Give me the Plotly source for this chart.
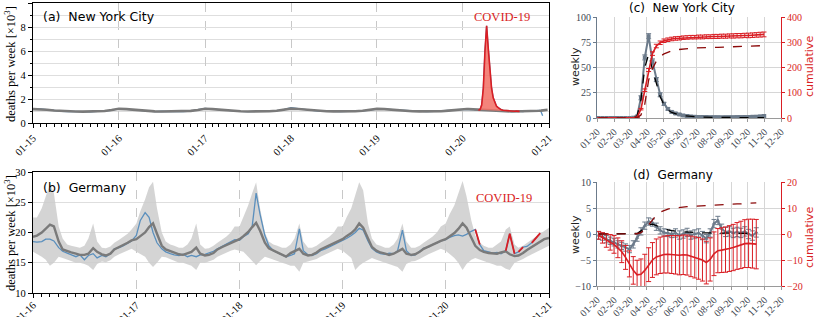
import pandas as pd
import plotly.graph_objects as go

# ---------------- (a) New York City: deaths per week [x10^3] ----------------
nyc_hist_dates = pd.date_range("2015-01-01", "2019-12-01", freq="MS")
nyc_hist_expected = [
    1.16, 1.15, 1.10, 1.04, 1.00, 0.97, 0.96, 0.95, 0.95, 0.97, 1.00, 1.08,
    1.18, 1.16, 1.11, 1.05, 1.01, 0.97, 0.96, 0.96, 0.95, 0.97, 1.01, 1.09,
    1.19, 1.16, 1.11, 1.05, 1.01, 0.98, 0.96, 0.96, 0.95, 0.98, 1.02, 1.10,
    1.20, 1.17, 1.12, 1.06, 1.01, 0.98, 0.97, 0.96, 0.96, 0.98, 1.02, 1.10,
    1.18, 1.16, 1.11, 1.05, 1.01, 0.98, 0.97, 0.96, 0.96, 0.98, 1.03, 1.10]
nyc_hist_observed = [
    1.13, 1.18, 1.12, 1.02, 0.98, 0.96, 0.98, 0.94, 0.93, 0.97, 0.99, 1.05,
    1.20, 1.14, 1.13, 1.04, 0.99, 0.95, 0.98, 0.95, 0.94, 0.96, 1.00, 1.12,
    1.22, 1.15, 1.10, 1.06, 0.99, 0.97, 0.95, 0.97, 0.94, 0.97, 1.03, 1.12,
    1.27, 1.19, 1.10, 1.05, 1.00, 0.96, 0.98, 0.95, 0.95, 0.97, 1.01, 1.08,
    1.16, 1.15, 1.12, 1.04, 1.00, 0.97, 0.96, 0.95, 0.97, 0.99, 1.04, 1.12]
nyc_2020_dates = pd.date_range("2020-01-04", "2020-12-26", freq="7D")
nyc_2020_expected = [
    1.18, 1.17, 1.17, 1.16,
    1.15, 1.15, 1.14, 1.13, 1.12,
    1.11, 1.10, 1.09, 1.08,
    1.07, 1.06, 1.05, 1.04,
    1.03, 1.02, 1.01, 1.00, 1.00,
    0.99, 0.99, 0.98, 0.98,
    0.97, 0.97, 0.97, 0.96,
    0.96, 0.96, 0.96, 0.96, 0.96,
    0.96, 0.96, 0.96, 0.96,
    0.97, 0.97, 0.98, 0.98, 0.99,
    1.00, 1.01, 1.02, 1.03,
    1.05, 1.06, 1.08, 1.10]
nyc_2020_observed = [
    1.17, 1.15, 1.14, 1.12,
    1.13, 1.10, 1.11, 1.09, 1.08,
    1.07, 1.12, 1.50, 2.90,
    6.00, 8.10, 6.20, 4.30,
    2.90, 2.10, 1.65, 1.40, 1.28,
    1.18, 1.10, 1.06, 1.04,
    1.02, 1.01, 1.00, 0.99,
    0.99, 0.98, 0.99, 0.97, 0.97,
    0.95, 0.96, 0.97, 0.96,
    0.97, 0.98, 0.99, 1.00, 1.00,
    1.02, 1.03, 1.05, 0.95,
    0.60, None, None, None]
nyc_covid_line = ("2020-03-07", "2020-08-29")
nyc_covid_fill = ("2020-03-14", "2020-07-04")

# ---------------- (b) Germany: deaths per week [x10^3], semi-monthly ----------------
de_dates = [pd.Timestamp(y, m, d) for y in range(2016, 2021) for m in range(1, 13) for d in (1, 15)] + [pd.Timestamp(2021, 1, 1)]
de_expected = [
    19.3, 19.5, 20.0, 20.6, 21.3, 21.0, 18.5, 17.2, 16.9, 16.7, 16.5, 16.3, 16.3, 16.5, 17.4, 16.8, 16.4, 16.2, 16.5, 17.2, 17.6, 17.9, 18.3, 18.7,
    18.9, 19.4, 20.0, 20.9, 21.5, 19.8, 17.8, 17.2, 16.9, 16.6, 16.4, 16.3, 16.5, 16.8, 17.5, 16.5, 16.2, 16.3, 16.6, 17.2, 17.6, 17.9, 18.3, 18.6,
    18.9, 19.4, 20.1, 20.9, 21.6, 20.3, 18.3, 17.4, 17.0, 16.7, 16.3, 16.0, 16.6, 16.9, 17.3, 16.5, 16.2, 16.3, 16.7, 17.2, 17.6, 17.9, 18.2, 18.5,
    18.9, 19.4, 19.9, 20.5, 21.5, 20.8, 19.0, 17.6, 17.0, 16.7, 16.5, 16.3, 16.5, 16.8, 17.3, 16.5, 16.3, 16.4, 16.8, 17.3, 17.7, 18.0, 18.3, 18.6,
    18.9, 19.4, 19.9, 20.6, 21.5, 20.8, 19.0, 17.8, 17.1, 16.8, 16.6, 16.5, 16.5, 16.7, 16.9, 16.4, 16.1, 16.2, 16.6, 17.1, 17.6, 18.0, 18.5, 18.9,
    19.1]
de_observed = [
    18.5, 18.4, 18.5, 18.9, 18.9, 18.6, 17.5, 16.9, 16.6, 16.3, 16.0, 16.3, 15.5, 16.2, 16.5, 15.8, 16.2, 16.0, 16.5, 17.3, 17.5, 17.8, 18.2, 18.6,
    19.5, 22.0, 23.3, 22.5, 20.0, 18.3, 17.3, 16.8, 16.5, 16.3, 16.2, 16.4, 16.0, 16.2, 16.0, 16.3, 16.4, 16.6, 16.9, 17.3, 17.7, 18.0, 18.5, 18.8,
    18.7, 19.3, 19.8, 21.0, 26.5, 23.0, 19.5, 17.8, 17.0, 16.7, 16.4, 16.0, 16.2, 16.5, 20.6, 17.0, 16.3, 16.2, 16.5, 17.0, 17.3, 17.6, 18.0, 18.3,
    18.6, 19.0, 19.5, 20.0, 20.7, 20.4, 18.6, 17.4, 16.8, 16.5, 16.4, 16.6, 16.5, 17.0, 20.4, 17.0, 16.2, 16.3, 16.9, 17.4, 17.6, 18.0, 18.3, 18.6,
    18.8, 19.2, 19.5, 19.6, 19.4, 19.7, 20.2, 20.5, 18.0, 17.0, 16.8, 16.6, 16.7, 16.5, 17.0, 19.8, 16.5, 16.8, 17.6, 17.7, 18.3, 19.0, 19.9, None,
    None]
de_band_high = [
    22.5, 22.5, 24.0, 26.0, 28.0, 26.5, 21.0, 19.0, 18.0, 17.8, 17.6, 17.5, 17.8, 19.0, 21.5, 18.5, 17.5, 17.4, 17.7, 18.3, 18.8, 19.2, 19.8, 20.5,
    21.5, 23.5, 25.5, 27.5, 28.4, 24.0, 20.0, 18.5, 18.0, 17.8, 17.5, 17.5, 18.0, 19.0, 21.5, 18.0, 17.3, 17.4, 17.8, 18.3, 18.8, 19.3, 20.0, 21.0,
    21.0, 22.5, 24.5, 26.5, 28.3, 24.0, 20.0, 18.5, 18.0, 17.8, 17.5, 17.5, 18.0, 19.0, 21.5, 18.5, 17.5, 17.5, 17.8, 18.3, 18.8, 19.3, 20.0, 21.0,
    21.0, 22.5, 24.0, 26.0, 28.3, 27.0, 21.5, 19.0, 18.0, 17.8, 17.5, 17.5, 18.0, 19.0, 21.5, 18.5, 17.5, 17.5, 17.8, 18.3, 18.8, 19.3, 20.0, 21.0,
    21.5, 23.0, 24.5, 26.5, 28.5, 26.0, 22.0, 19.5, 18.3, 17.8, 17.5, 17.5, 18.0, 18.5, 20.5, 21.0, 18.0, 17.5, 17.8, 18.3, 18.8, 19.3, 19.8, 20.3,
    20.8]
de_band_low = [
    16.8, 16.5, 16.0, 15.5, 14.5, 15.0, 16.0, 15.8, 15.6, 15.3, 15.0, 15.0, 14.8, 14.5, 13.8, 14.8, 15.2, 15.1, 15.4, 16.0, 16.4, 16.7, 17.0, 17.3,
    16.8, 16.5, 16.0, 15.0, 14.3, 15.0, 16.0, 15.9, 15.6, 15.3, 15.0, 15.0, 14.8, 14.5, 13.8, 15.0, 15.0, 15.2, 15.5, 16.0, 16.4, 16.7, 17.0, 17.2,
    17.0, 16.8, 16.0, 15.3, 14.6, 15.3, 16.0, 15.8, 15.5, 15.3, 15.0, 14.8, 14.5, 14.5, 13.5, 15.0, 15.2, 15.3, 15.6, 16.0, 16.4, 16.7, 17.0, 17.3,
    17.0, 16.5, 15.8, 13.8, 14.5, 15.0, 15.5, 15.8, 15.5, 15.3, 15.0, 14.8, 14.5, 14.3, 13.5, 14.8, 15.2, 15.3, 15.6, 16.0, 16.4, 16.7, 17.0, 17.3,
    17.0, 16.5, 15.8, 15.0, 13.8, 14.8, 15.5, 15.8, 15.5, 15.3, 15.0, 14.8, 14.5, 14.5, 14.0, 13.8, 15.0, 15.3, 15.6, 16.0, 16.4, 16.8, 17.2, 17.5,
    17.8]
de_covid_segments = [("2020-04-15", "2020-05-01"), ("2020-08-01", "2020-09-01"),
                     ("2020-09-15", "2020-10-01"), ("2020-11-01", "2020-12-01")]

# ---------------- (c)/(d) 2020 weekly excess & cumulative ----------------
w_dates = pd.date_range("2020-01-04", "2020-10-31", freq="7D")  # 44 weeks
nyc_weekly = [0, 0, 0, 0, 0, 0, 0, 0, 0,
              0.3, 1.5, 20, 60, 81, 56, 38, 23, 14, 9, 6, 4.5, 3.5,
              2.5, 2, 1.5, 1.2, 1, 1, 1, 0.8, 0.8, 0.8, 0.7, 0.8, 0.8,
              0.8, 0.9, 0.9, 1.0, 1.0, 1.2, 1.3, 1.6, 2.0]
nyc_weekly_err = [0.5] * 9 + [0.5, 1, 2, 2.5, 2.5, 2.5, 2, 2, 1.5, 1.2, 1, 1, 1] + [1] * 22
nyc_weekly_model = [0, 0, 0, 0, 0, 0, 0, 0, 0,
                    0, 2, 18, 50, 63, 48, 33, 21, 13, 8, 5.5, 4, 3,
                    2.3, 1.8, 1.4, 1.1, 0.9, 0.8, 0.7, 0.6, 0.5, 0.5, 0.5, 0.5, 0.5,
                    0.5, 0.4, 0.4, 0.4, 0.4, 0.4, 0.3, 0.3, 0.3]
nyc_cum = [0, 0, 0, 0, 0, 0, 0, 0, 0,
           0, 3, 35, 110, 190, 255, 285, 298, 306, 310, 313, 315, 316,
           318, 319, 320, 320, 321, 321, 322, 322, 323, 323, 324, 324, 325,
           325, 326, 326, 327, 327, 328, 329, 330, 331]
nyc_cum_err = [0] * 9 + [0.5, 1, 3, 5, 6, 7, 7, 7, 7, 7, 7, 7, 7,
                          7, 7, 7, 7, 7.5, 7.5, 7.5, 7.5, 8, 8, 8, 8, 8,
                          8.5, 8.5, 8.5, 8.5, 9, 9, 9, 9.5, 9.5]
nyc_cum_model = [0, 0, 0, 0, 0, 0, 0, 0, 0,
                 0, 1, 12, 55, 150, 195, 225, 244, 254, 261, 266, 270, 272,
                 274, 275, 276, 277, 278, 278, 279, 279, 280, 280, 281, 281, 282,
                 282, 283, 283, 284, 284, 285, 285, 286, 287]

wd_dates = pd.date_range("2020-01-04", "2020-10-17", freq="7D")  # 42 weeks
de_weekly = [-0.3, -0.5, -1.0, -1.3, -1.6, -2.0, -2.3, -2.6, -2.9,
             -2.0, -0.7, 0.5, 1.6, 2.4, 2.2, 1.4, 0.7,
             0.3, 0.2, 0.0, 0.2, -0.2, 0.0, 0.3, -0.2, 0.0,
             0.2, -0.3, -0.9, 0.2, 2.0, 2.6, 1.0, 0.4, 0.5,
             0.2, 0.4, 0.2, 0.5, 0.0, -0.3, 0.3]
de_weekly_err = [0.7] * 20 + [0.8] * 12 + [0.9] * 10
de_weekly_model = [0, 0, 0, 0, 0, 0, 0, 0, 0,
                   0, 0.1, 0.6, 1.3, 1.8, 1.9, 1.6, 1.3,
                   1.0, 0.8, 0.65, 0.5, 0.45, 0.4, 0.35, 0.3, 0.3,
                   0.25, 0.25, 0.2, 0.2, 0.2, 0.2, 0.2, 0.2, 0.2,
                   0.15, 0.15, 0.15, 0.15, 0.1, 0.1, 0.1]
de_cum = [-0.5, -1.5, -2.5, -3.2, -4.0, -5.3, -6.8, -9.0, -11.5,
          -14.0, -15.7, -15.5, -14.0, -11.8, -10.0, -8.8, -8.2,
          -7.9, -7.8, -7.9, -8.0, -8.2, -8.0, -8.1, -8.6, -9.0,
          -9.4, -10.0, -11.0, -9.8, -7.6, -6.4, -6.2, -6.0, -5.6,
          -5.2, -4.6, -4.2, -3.7, -3.6, -3.7, -3.9]
de_cum_err = [1.5, 2.0, 2.6, 3.0, 3.4, 3.8, 4.2, 4.6, 5.0,
              5.3, 5.6, 5.9, 6.2, 6.5, 6.7, 6.9, 7.0,
              7.1, 7.2, 7.3, 7.4, 7.5, 7.6, 7.7, 7.8, 7.9,
              8.0, 8.1, 8.2, 8.3, 8.4, 8.5, 8.6, 8.7, 8.8,
              8.9, 9.0, 9.1, 9.2, 9.3, 9.4, 9.5]
de_cum_model = [0, 0, 0, 0, 0, 0, 0, 0, 0,
                0, 0.1, 0.5, 1.8, 3.5, 5.5, 7.3, 8.4,
                9.1, 9.6, 9.9, 10.1, 10.3, 10.4, 10.5, 10.6, 10.7,
                10.8, 10.9, 11.0, 11.1, 11.2, 11.25, 11.3, 11.35, 11.4,
                11.5, 11.55, 11.6, 11.7, 11.8, 11.9, 12.0]

# tick labels
year_ticks_a = [pd.Timestamp(y, 1, 1) for y in range(2015, 2022)]
year_labels_a = ["01-15", "01-16", "01-17", "01-18", "01-19", "01-20", "01-21"]
year_ticks_b = [pd.Timestamp(y, 1, 1) for y in range(2016, 2022)]
year_labels_b = ["01-16", "01-17", "01-18", "01-19", "01-20", "01-21"]
month_ticks = [pd.Timestamp(2020, m, 1) for m in range(1, 13)]
month_labels = ["01-20", "02-20", "03-20", "04-20", "05-20", "06-20",
                "07-20", "08-20", "09-20", "10-20", "11-20", "12-20"]

# ---------------- styling ----------------
BLUE = "#5a8fbd"
GRAY = "#7a7a7a"
BAND = "rgba(205,205,205,0.85)"
RED = "#d91e24"
SLATE = "#6c7b8b"
DARKRED = "#8b0a0a"
SERIF = "Liberation Serif"
SANS = "DejaVu Sans"
W, H = 814, 317

def px(x):
    return x / W

def py(y):
    return 1 - y / H

fig = go.Figure()

def in_range(d, a, b):
    return pd.Timestamp(a) <= pd.Timestamp(d) <= pd.Timestamp(b)

# ---- panel a ----
nyc_dates = list(nyc_hist_dates) + list(nyc_2020_dates)
nyc_expected = nyc_hist_expected + nyc_2020_expected
nyc_observed = nyc_hist_observed + nyc_2020_observed

fig.add_trace(go.Scatter(x=nyc_dates, y=nyc_observed, mode="lines", line=dict(color=BLUE, width=1.3),
                         xaxis="x", yaxis="y", showlegend=False))
fig.add_trace(go.Scatter(x=nyc_dates, y=nyc_expected, mode="lines", line=dict(color=GRAY, width=2.6),
                         xaxis="x", yaxis="y", showlegend=False))
fill_x = [d for d in nyc_dates if in_range(d, *nyc_covid_fill)]
fill_exp = [e for d, e in zip(nyc_dates, nyc_expected) if in_range(d, *nyc_covid_fill)]
fill_obs = [o for d, o in zip(nyc_dates, nyc_observed) if in_range(d, *nyc_covid_fill)]
fig.add_trace(go.Scatter(x=fill_x, y=fill_exp, mode="lines", line=dict(width=0, color=GRAY),
                         xaxis="x", yaxis="y", showlegend=False))
fig.add_trace(go.Scatter(x=fill_x, y=fill_obs, mode="lines", line=dict(width=0, color=RED),
                         fill="tonexty", fillcolor="rgba(242,110,100,0.85)",
                         xaxis="x", yaxis="y", showlegend=False))
line_x = [d for d in nyc_dates if in_range(d, *nyc_covid_line)]
line_obs = [o for d, o in zip(nyc_dates, nyc_observed) if in_range(d, *nyc_covid_line)]
fig.add_trace(go.Scatter(x=line_x, y=line_obs, mode="lines", line=dict(color=RED, width=1.6),
                         xaxis="x", yaxis="y", showlegend=False))

# ---- panel b ----
fig.add_trace(go.Scatter(x=de_dates, y=de_band_high, mode="lines", line=dict(width=0),
                         xaxis="x2", yaxis="y2", showlegend=False, hoverinfo="skip"))
fig.add_trace(go.Scatter(x=de_dates, y=de_band_low, mode="lines", line=dict(width=0),
                         fill="tonexty", fillcolor=BAND,
                         xaxis="x2", yaxis="y2", showlegend=False, hoverinfo="skip"))
fig.add_trace(go.Scatter(x=de_dates, y=de_observed, mode="lines", line=dict(color=BLUE, width=1.3),
                         xaxis="x2", yaxis="y2", showlegend=False))
fig.add_trace(go.Scatter(x=de_dates, y=de_expected, mode="lines", line=dict(color=GRAY, width=2.4),
                         xaxis="x2", yaxis="y2", showlegend=False))
for a, b in de_covid_segments:
    sx = [d for d in de_dates if in_range(d, a, b)]
    sy = [o for d, o in zip(de_dates, de_observed) if in_range(d, a, b)]
    fig.add_trace(go.Scatter(x=sx, y=sy, mode="lines", line=dict(color=RED, width=1.8),
                             xaxis="x2", yaxis="y2", showlegend=False))

# ---- panel c ----
fig.add_trace(go.Scatter(x=w_dates, y=nyc_weekly, mode="lines+markers",
                         line=dict(color=SLATE, width=2), marker=dict(symbol="square", size=4, color=SLATE),
                         error_y=dict(type="data", array=nyc_weekly_err, color=SLATE, thickness=1, width=2.5),
                         xaxis="x3", yaxis="y3", showlegend=False))
fig.add_trace(go.Scatter(x=w_dates, y=nyc_weekly_model, mode="lines", line=dict(color="black", width=1.3, dash="dash"),
                         xaxis="x3", yaxis="y3", showlegend=False))
fig.add_trace(go.Scatter(x=w_dates, y=nyc_cum, mode="lines", line=dict(color=RED, width=1.6),
                         error_y=dict(type="data", array=nyc_cum_err, color=RED, thickness=1, width=2.5),
                         xaxis="x3", yaxis="y4", showlegend=False))
fig.add_trace(go.Scatter(x=w_dates, y=nyc_cum_model, mode="lines", line=dict(color=DARKRED, width=1.3, dash="dash"),
                         xaxis="x3", yaxis="y4", showlegend=False))

# ---- panel d ----
fig.add_trace(go.Scatter(x=wd_dates, y=de_weekly, mode="lines+markers",
                         line=dict(color=SLATE, width=2), marker=dict(symbol="triangle-up", size=4, color=SLATE),
                         error_y=dict(type="data", array=de_weekly_err, color=SLATE, thickness=1, width=2.5),
                         xaxis="x4", yaxis="y5", showlegend=False))
fig.add_trace(go.Scatter(x=wd_dates, y=de_weekly_model, mode="lines", line=dict(color="black", width=1.3, dash="dash"),
                         xaxis="x4", yaxis="y5", showlegend=False))
fig.add_trace(go.Scatter(x=wd_dates, y=de_cum, mode="lines", line=dict(color=RED, width=1.6),
                         error_y=dict(type="data", array=de_cum_err, color=RED, thickness=1, width=2.5),
                         xaxis="x4", yaxis="y6", showlegend=False))
fig.add_trace(go.Scatter(x=wd_dates, y=de_cum_model, mode="lines", line=dict(color=DARKRED, width=1.3, dash="dash"),
                         xaxis="x4", yaxis="y6", showlegend=False))

# ---------------- layout ----------------
tickfont_ab = dict(family=SERIF, size=10.5, color="black")
tickfont_cd = dict(family=SERIF, size=10, color="#3d4650")

frame = dict(showline=True, linecolor="black", linewidth=1.2, mirror=True)

xa = dict(domain=[px(33), px(549)], type="date", tickvals=year_ticks_a, ticktext=year_labels_a,
          range=["2015-01-01", "2021-01-01"], tickangle=-45, tickfont=tickfont_ab,
          ticks="outside", ticklen=4, tickcolor="black", automargin=False,
          showgrid=True, gridcolor="#c8c8c8", griddash="dash", gridwidth=1,
          minor=dict(dtick="M1", tick0="2015-01-01", ticks="outside", ticklen=3, tickcolor="black", showgrid=False),
          zeroline=False, **frame)
ya = dict(domain=[py(123), py(3)], range=[0, 10], tickvals=[0, 2, 4, 6, 8, 10], tickfont=tickfont_ab,
          ticks="outside", ticklen=4, tickcolor="black", automargin=False,
          showgrid=True, gridcolor="#dedede", gridwidth=1.2,
          minor=dict(tickvals=[1, 3, 5, 7, 9], ticks="outside", ticklen=2, tickcolor="black",
                     showgrid=True, gridcolor="#dedede", gridwidth=1.2),
          zeroline=False, **frame)
xb = dict(domain=[px(33), px(549)], type="date", tickvals=year_ticks_b, ticktext=year_labels_b,
          range=["2016-01-01", "2021-01-01"], tickangle=-45, tickfont=tickfont_ab,
          ticks="outside", ticklen=4, tickcolor="black", automargin=False, ticklabelstandoff=-3,
          showgrid=True, gridcolor="#c8c8c8", griddash="dash", gridwidth=1,
          minor=dict(dtick="M1", tick0="2016-01-01", ticks="outside", ticklen=3, tickcolor="black", showgrid=False),
          zeroline=False, anchor="y2", **frame)
yb = dict(domain=[py(293), py(172)], range=[10, 30], tickvals=[10, 15, 20, 25, 30], tickfont=tickfont_ab,
          ticks="outside", ticklen=4, tickcolor="black", automargin=False,
          showgrid=True, gridcolor="#dedede", gridwidth=1.2, zeroline=False, anchor="x2", **frame)

def month_x(anchor):
    return dict(domain=[px(597), px(781)], type="date", range=["2020-01-01", "2020-12-01"],
                tickvals=month_ticks, ticktext=month_labels, tickangle=-45, tickfont=tickfont_cd,
                ticks="outside", ticklen=3, tickcolor="#999999", automargin=False,
                showgrid=True, gridcolor="#d6d6d6", gridwidth=1.2,
                showline=True, linecolor="#9a9a9a", linewidth=1.2, zeroline=False, anchor=anchor)

xc = month_x("y3")
yc = dict(domain=[py(118), py(17)], range=[0, 100], tickvals=[0, 25, 50, 75, 100], tickfont=tickfont_cd,
          ticks="outside", ticklen=3, tickcolor=SLATE, showgrid=True, gridcolor="#d6d6d6", gridwidth=1.2,
          showline=True, linecolor=SLATE, linewidth=1.2, zeroline=False, anchor="x3", automargin=False)
yc2 = dict(range=[0, 400], tickvals=[0, 100, 200, 300, 400], overlaying="y3", side="right", anchor="x3",
           tickfont=dict(family=SERIF, size=10, color=RED), ticks="outside", ticklen=3, tickcolor=RED,
           showgrid=False, showline=True, linecolor=RED, linewidth=1.2, zeroline=False, automargin=False)
xd = month_x("y5")
yd = dict(domain=[py(286), py(182)], range=[-10, 10], tickvals=[-10, -5, 0, 5, 10],
          ticktext=["\u221210", "\u22125", "0", "5", "10"], tickfont=tickfont_cd,
          ticks="outside", ticklen=3, tickcolor=SLATE, showgrid=True, gridcolor="#d6d6d6", gridwidth=1.2,
          showline=True, linecolor=SLATE, linewidth=1.2, zeroline=False, anchor="x4", automargin=False)
yd2 = dict(range=[-20, 20], tickvals=[-20, -10, 0, 10, 20], ticktext=["\u221220", "\u221210", "0", "10", "20"],
           overlaying="y5", side="right", anchor="x4",
           tickfont=dict(family=SERIF, size=10, color=RED), ticks="outside", ticklen=3, tickcolor=RED,
           showgrid=False, showline=True, linecolor=RED, linewidth=1.2, zeroline=False, automargin=False)

ann = []
def add_text(text, x, y, size, family, color="black", angle=0, xanchor="center"):
    ann.append(dict(text=text, x=px(x), y=py(y), xref="paper", yref="paper", showarrow=False,
                    xanchor=xanchor, yanchor="middle", textangle=angle,
                    font=dict(family=family, size=size, color=color)))

add_text("(a)  New York City", 41, 16, 12.5, SANS, xanchor="left")
add_text("(b)  Germany", 41, 187, 12.5, SANS, xanchor="left")
add_text("COVID-19", 501.5, 17, 12.5, SERIF, color=RED)
add_text("COVID-19", 504, 198, 12.5, SERIF, color=RED)
add_text("deaths per week [×10<sup>3</sup>]", 10, 64, 12.5, SERIF, angle=-90)
add_text("deaths per week [×10<sup>3</sup>]", 10, 233, 12.5, SERIF, angle=-90)
add_text("(c)  New York City", 681.5, 8, 12, SANS)
add_text("(d)  Germany", 673, 175, 12, SANS)
add_text("weekly", 575, 67, 11, SANS, color="#222222", angle=-90)
add_text("cumulative", 809, 67, 11, SANS, color=RED, angle=-90)
add_text("weekly", 575, 235, 11, SANS, color="#222222", angle=-90)
add_text("cumulative", 809, 238, 11, SANS, color=RED, angle=-90)

fig.update_layout(
    width=W, height=H, margin=dict(l=0, r=0, t=0, b=0, autoexpand=False),
    paper_bgcolor="white", plot_bgcolor="white", showlegend=False,
    xaxis=xa, yaxis=ya, xaxis2=xb, yaxis2=yb,
    xaxis3=xc, yaxis3=yc, yaxis4=yc2,
    xaxis4=xd, yaxis5=yd, yaxis6=yd2,
    annotations=ann,
)
fig.write_html("out.html", config={"displayModeBar": False},
               post_script="document.body.style.margin='0px';document.body.style.padding='0px';")
